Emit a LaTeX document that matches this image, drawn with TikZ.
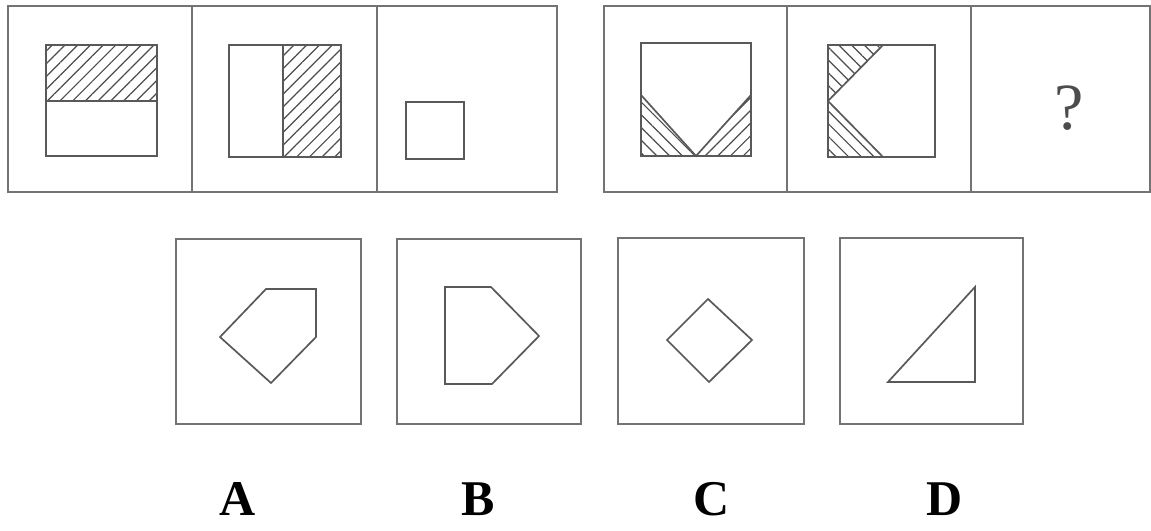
\documentclass[tikz,border=0pt]{standalone}
\usepackage{fontspec}
\setmainfont{Liberation Serif}
\usetikzlibrary{patterns.meta}

\begin{document}
\begin{tikzpicture}[
    x=1pt, y=-1pt,
    frame/.style={draw=black!55, line width=1.8pt},
    figline/.style={draw=black!65, line width=1.7pt, line join=miter},
    hatchne/.style={pattern={Lines[angle=45,distance=9pt,line width=1.2pt]}, pattern color=black!70},
    hatchnw/.style={pattern={Lines[angle=-45,distance=9pt,line width=1.2pt]}, pattern color=black!70},
    optlabel/.style={font=\fontsize{50}{50}\selectfont\bfseries, anchor=base},
    quest/.style={font=\fontsize{66}{66}\selectfont, text=black!70, anchor=base}
  ]
    \useasboundingbox (0,0) rectangle (1151,530);

    % Top strips
    \draw[frame] (8,6) rectangle (557,192) (192,6) -- (192,192) (377,6) -- (377,192);
    \draw[frame] (604,6) rectangle (1150,192) (787,6) -- (787,192) (971,6) -- (971,192);

    % Panel 1
    \path[hatchne] (46,45) rectangle (157,101);
    \draw[figline] (46,45) rectangle (157,156) (46,101) -- (157,101);

    % Panel 2
    \path[hatchne] (283,45) rectangle (341,157);
    \draw[figline] (229,45) rectangle (341,157) (283,45) -- (283,157);

    % Panel 3
    \draw[figline] (406,102) rectangle (464,159);

    % Panel 4
    \path[hatchnw] (641,95) -- (696,156) -- (641,156) -- cycle;
    \path[hatchne] (751,95) -- (696,156) -- (751,156) -- cycle;
    \draw[figline] (641,43) rectangle (751,156) (641,95) -- (696,156) -- (751,95);

    % Panel 5
    \path[hatchnw] (828,45) -- (883,45) -- (828,101) -- cycle;
    \path[hatchnw] (828,101) -- (883,157) -- (828,157) -- cycle;
    \draw[figline] (828,45) rectangle (935,157) (883,45) -- (828,101) -- (883,157);

    % Panel 6
    \node[quest] (q) at (1069,129) {?};

    % Options
    \draw[frame] (176,239) rectangle (361,424);
    \draw[figline] (266,289) -- (316,289) -- (316,337) -- (271,383) -- (220,337) -- cycle;

    \draw[frame] (397,239) rectangle (581,424);
    \draw[figline] (445,287) -- (491,287) -- (539,336) -- (492,384) -- (445,384) -- cycle;

    \draw[frame] (618,238) rectangle (804,424);
    \draw[figline] (708,299) -- (752,340) -- (709,382) -- (667,340) -- cycle;

    \draw[frame] (840,238) rectangle (1023,424);
    \draw[figline] (975,287) -- (975,382) -- (888,382) -- cycle;

    % Labels
    \node[optlabel] (labA) at (238,515) {A};
    \node[optlabel] (labB) at (478,515) {B};
    \node[optlabel] (labC) at (712,515) {C};
    \node[optlabel] (labD) at (945,515) {D};
\end{tikzpicture}
\end{document}
